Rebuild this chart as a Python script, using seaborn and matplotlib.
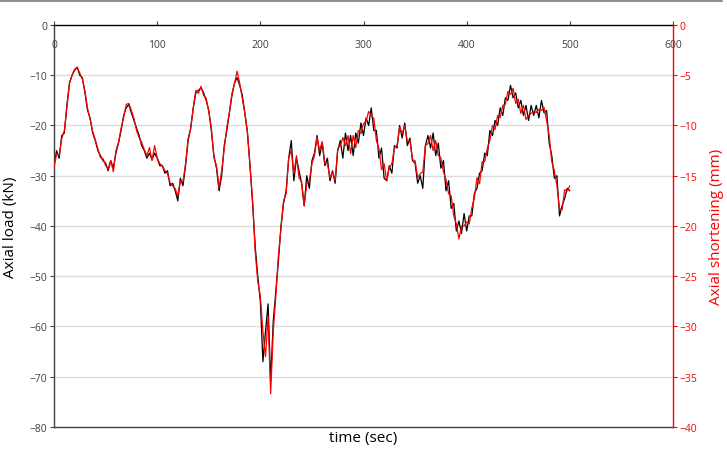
import numpy as np
import pandas as pd
import matplotlib
matplotlib.use("Agg")
import matplotlib.pyplot as plt
import seaborn as sns
from matplotlib.lines import Line2D

# sampling times (sec), one reading every 2.5 s
time_sec = np.arange(0, 500.1, 2.5)

# axial load (kN), black trace
axial_load = [
    -28, -25, -26.5, -22, -21.5, -16, -11.5, -10, -9, -8.4,
    -10, -10.5, -13.5, -17, -18.5, -21.5, -23, -25, -26, -27,
    -27.5, -29, -27, -28.5, -25.5, -23.5, -21, -18, -16.5, -15.8,
    -17.5, -19, -20.5, -22, -24, -25, -26.5, -25.5, -26.8, -25.5,
    -26.5, -28, -28, -29.5, -29, -32, -31.5, -33, -35, -30.5,
    -32, -28, -23, -20.5, -16.5, -13.5, -13, -12.5, -13.5, -15,
    -17, -21, -26, -28.5, -33, -30, -24, -21, -17.5, -14,
    -11.5, -10.5, -12, -14, -17.5, -21.5, -28, -35.5, -44, -50,
    -55, -67, -61, -55.5, -71, -59, -53, -47, -40, -35.5,
    -33, -26.5, -23, -31, -26.5, -29, -31.5, -36, -30, -32.5,
    -27, -25.5, -22, -26, -23.5, -28, -26.5, -31, -29, -31.5,
    -25, -23, -26.5, -21.5, -25, -22, -26, -21.5, -23.5, -19.5,
    -22, -18.5, -20, -16.5, -21, -21, -26.5, -24.5, -30.5, -31,
    -28, -29.5, -24, -24.5, -20, -22.5, -19.5, -24, -22.5, -27,
    -27.5, -31.5, -30, -32.5, -24, -22, -24.5, -21.5, -26, -23.5,
    -28.5, -27, -33, -31, -36.5, -35.5, -41, -39, -41.5, -37.5,
    -41, -38, -38, -33.5, -32.5, -29.5, -29, -25.5, -26, -21,
    -22, -19, -20, -16.5, -18, -14.5, -15, -12, -14.5, -13.5,
    -16.5, -15, -18, -16, -19, -16, -18, -16, -18.5, -15,
    -17.5, -17, -23.5, -26, -30.5, -30, -38, -36, -34.5, -32.5,
    -33,
]

# axial shortening (mm), red trace
axial_shortening = [
    -14.2, -12.8, -13, -11.3, -10.5, -8.2, -5.8, -5, -4.4, -4.2,
    -4.8, -5.4, -6.6, -8.3, -9.4, -10.6, -11.4, -12.3, -13.2, -13.3,
    -14, -14.3, -13.5, -14.6, -12.5, -11.7, -10.3, -9.2, -7.9, -7.8,
    -8.5, -9.3, -10.5, -11.2, -11.7, -12.4, -13, -12.2, -13.5, -12,
    -13.2, -13.8, -14, -14.5, -14.8, -15.7, -16, -16.3, -17, -15.5,
    -15.6, -13.8, -11.3, -10.3, -8.2, -6.5, -6.8, -6.1, -7, -7.3,
    -8.6, -10.2, -13.2, -14, -16.2, -14.5, -12.3, -10.2, -8.7, -6.8,
    -5.8, -4.6, -5.8, -7.3, -8.8, -10.6, -14, -17.5, -22.5, -25.5,
    -27, -30.5, -33, -29, -36.7, -30.5, -27, -23, -20.3, -17.5,
    -16.8, -13.2, -12.5, -14.8, -13, -15.2, -15.6, -18, -15.8, -15.5,
    -13.8, -13, -11.2, -12.5, -11.6, -13.8, -13.8, -15.2, -14.6, -15.5,
    -12.3, -12, -11.2, -12, -11, -12.8, -11, -12.2, -10.5, -10.8,
    -9.8, -9.6, -8.6, -9, -9.3, -11.5, -12.3, -14.4, -13.8, -15.5,
    -14.2, -13.8, -12.2, -12, -10.2, -10.8, -10, -11.6, -11.5, -13.4,
    -13.5, -15.2, -14.8, -14.6, -12, -11.8, -11, -12.5, -11.5, -13,
    -13.2, -14.6, -15.4, -16.8, -17, -19, -19.8, -21.3, -20, -20,
    -19.6, -19.8, -18.2, -17.2, -15.2, -15.8, -13.6, -13.6, -12.3, -11.5,
    -10, -10.4, -9, -9.2, -8, -7.9, -6.6, -6.9, -6.3, -7.8,
    -7.4, -8.8, -8, -9.4, -9, -8.8, -8.6, -8.7, -8.4, -8.5,
    -8.2, -9.5, -11, -13.6, -14.5, -16, -18.3, -18.4, -16.4, -16.5,
    -16,
]

x_ticks = [0, 100, 200, 300, 400, 500, 600]
load_ticks = [0, -10, -20, -30, -40, -50, -60, -70, -80]
short_ticks = [0, -5, -10, -15, -20, -25, -30, -35, -40]

df = pd.DataFrame({"time": time_sec, "load": axial_load, "short": axial_shortening})

sns.set_style("white")
plt.rcParams["font.family"] = ["Open Sans", "DejaVu Sans"]

fig = plt.figure(figsize=(7.27, 4.6), dpi=100)
ax = fig.add_axes([0.0743, 0.0696, 0.8514, 0.8739])
ax2 = ax.twinx()

# gridlines
for v in load_ticks[1:-1]:
    ax.axhline(v, color="#dcdcdc", lw=1, zorder=0)

sns.lineplot(data=df, x="time", y="load", ax=ax, color="black", lw=0.9)
sns.lineplot(data=df, x="time", y="short", ax=ax2, color="#ff0000", lw=0.9)

ax.set_xlim(0, 600)
ax.set_ylim(-80, 0)
ax2.set_ylim(-40, 0)
ax.set_xticks(x_ticks)
ax.set_yticks(load_ticks)
ax2.set_yticks(short_ticks)

# x axis sits at y = 0 (top), labels just under it
ax.xaxis.tick_top()
ax.tick_params(axis="x", top=True, bottom=False, labeltop=True, labelbottom=False,
               direction="out", length=3, width=0.8, color="#404040",
               labelsize=7.5, labelcolor="#404040", pad=-21)
ax.tick_params(axis="y", direction="out", length=3, width=0.8, color="#404040",
               labelsize=7.5, labelcolor="#404040", pad=2)
ax2.tick_params(axis="y", direction="out", length=3, width=0.8, color="#ff0000",
                labelsize=7.5, labelcolor="#ff0000", pad=2)

for s in ["left", "bottom", "top"]:
    ax.spines[s].set_color("#404040")
    ax.spines[s].set_linewidth(1.0)
ax.spines["top"].set_color("black")
ax.spines["right"].set_visible(False)
for s in ["left", "bottom", "top"]:
    ax2.spines[s].set_visible(False)
ax2.spines["right"].set_color("#ff0000")
ax2.spines["right"].set_linewidth(1.0)

ax.xaxis.set_label_position("bottom")
ax.set_xlabel("time (sec)", fontsize=11, color="black", labelpad=2)
ax.set_ylabel("Axial load (kN)", fontsize=11, color="black", labelpad=8)
ax2.set_ylabel("Axial shortening (mm)", fontsize=11, color="#ff0000", labelpad=8)

# thin frame line across the top of the image
fig.add_artist(Line2D([0, 0.993], [0.9957, 0.9957], color="#909090", lw=1.5,
                      transform=fig.transFigure))

plt.savefig("out.png", dpi=100)
